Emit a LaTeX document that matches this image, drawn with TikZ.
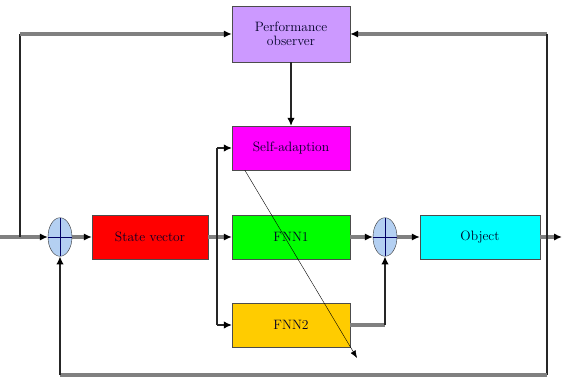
\documentclass[tikz,border=0pt]{standalone}
\usepackage{tikz}
\usetikzlibrary{arrows.meta,positioning,calc,shapes.geometric}
\definecolor{perfviolet}{HTML}{CC99FF}
\definecolor{adaptpink}{HTML}{FF00FF}
\definecolor{statered}{HTML}{FF0000}
\definecolor{fnngreen}{HTML}{00FF00}
\definecolor{fnngold}{HTML}{FFCC00}
\definecolor{objcyan}{HTML}{00FFFF}
\definecolor{sumblue}{HTML}{B4D0F2}
\tikzset{block/.style={rectangle,draw=black!70,minimum width=41.3mm,minimum height=15.4mm,inner sep=1pt,align=center,text=black!85!blue,font=\fontsize{13.5}{14}\selectfont},summer/.style={ellipse,draw=black!80,fill=sumblue,minimum width=8.4mm,minimum height=13.5mm,inner sep=0pt},hline/.style={draw=black!50,line width=3.5pt},vline/.style={draw=black!85,line width=1.2pt},tip/.style={-{Latex[length=2.8mm,width=2.6mm,color=black]}},every picture/.style={line cap=butt}}
\begin{document}
\begin{tikzpicture}[x=0.35mm,y=-0.35mm]
\useasboundingbox (0,0) rectangle (562,386);
\node[block,fill=perfviolet,minimum height=19.6mm] (perf) at (291,34) {Performance\\observer};
\node[block,fill=adaptpink] (adapt) at (291,148) {Self-adaption};
\node[block,fill=statered,minimum width=40.6mm] (state) at (150,237) {State vector};
\node[block,fill=fnngreen] (fnn1) at (291,237) {FNN1};
\node[block,fill=fnngold] (fnn2) at (291,325) {FNN2};
\node[block,fill=objcyan,minimum width=42mm] (object) at (480,237) {Object};
\node[summer] (sum1) at (60,237) {};
\node[summer] (sum2) at (385,237) {};
\foreach \s in {sum1,sum2}{\draw[blue!40!black,thick] (\s.north)--(\s.south) (\s.west)--(\s.east);}
\coordinate (in) at (0,237);
\coordinate (out) at (562,237);
\coordinate (tl) at (20,34);
\coordinate (jl) at (20,237);
\coordinate (tr) at (547,34);
\coordinate (br) at (547,375);
\coordinate (bl) at (sum1.south |- br);
\coordinate (sa) at (217,148);
\coordinate (sb) at (217,325);
\coordinate (tunestart) at ($(adapt.south west)!0.11!(adapt.south east)$);
\coordinate (tuneend) at (357,358);
% forward path
\draw[hline,tip] (in) -- (sum1.west);
\draw[hline,tip] (sum1.east) -- (state.west);
\draw[hline,tip] (state.east) -- (fnn1.west);
\draw[hline,tip] (fnn1.east) -- (sum2.west);
\draw[hline,tip] (sum2.east) -- (object.west);
\draw[hline,tip] (object.east) -- (out);
% split to the adaption and the second network
\draw[vline] (sa) -- (sb);
\draw[vline,tip] (sa) -- (adapt.west);
\draw[vline,tip] (sb) -- (fnn2.west);
\draw[hline] (fnn2.east) -- (fnn2.east -| sum2.south);
\draw[vline,tip] (fnn2.east -| sum2.south) -- (sum2.south);
% observer loop
\draw[vline] (jl) -- (tl);
\draw[hline,tip] (tl) -- (perf.west);
\draw[hline,tip] (tr) -- (perf.east);
\draw[vline,tip] (perf.south) -- (adapt.north);
\draw[black,thin,-{Latex[length=2.6mm,width=2mm]}] (tunestart) -- (tuneend);
% feedback
\draw[vline] (tr) -- (br);
\draw[hline] (br) -- (bl);
\draw[vline,tip] (bl) -- (sum1.south);
\end{tikzpicture}
\end{document}
